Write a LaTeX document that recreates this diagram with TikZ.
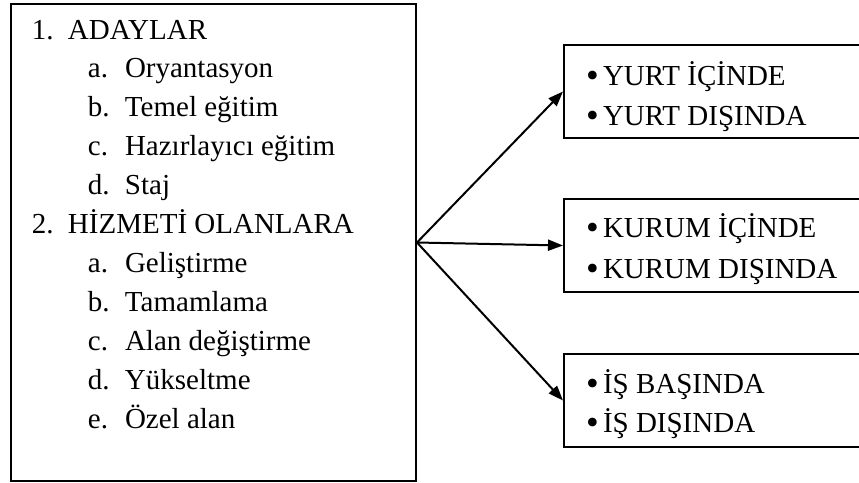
\documentclass[tikz,border=0pt]{standalone}
\usepackage{fontspec}
\setmainfont{Liberation Serif}
\usetikzlibrary{arrows.meta}
\tikzset{
	kutu/.style={draw,rectangle,inner sep=0pt,anchor=north west},
	satir/.style={anchor=base west,inner sep=0pt,font=\fontsize{14.5}{17}\selectfont},
}
\newcommand{\madde}[2]{\makebox[18pt][l]{#1}#2}
\newcommand{\altmadde}[2]{\hspace*{28pt}\makebox[18.5pt][l]{#1}#2}
\newcommand{\imlec}[1]{\makebox[8.5pt][l]{\raisebox{-1pt}{\scalebox{1.25}{\textbullet}}}#1}
\begin{document}
\begin{tikzpicture}[
	x=0.5pt,y=-0.5pt,
	>={Triangle[length=7.5pt,width=5.5pt]},
	line width=1pt,
	line join=miter
	]
	\useasboundingbox (0,0) rectangle (859,483);
	\clip (0,0) rectangle (859,483);
	% kutular
	\node[kutu,minimum width=202.5pt,minimum height=238.5pt] (egitim) at (10,3) {};
	\node[kutu,minimum width=160pt,minimum height=46.5pt] (yurt) at (563,44) {};
	\node[kutu,minimum width=160pt,minimum height=46.5pt] (kurum) at (563,198) {};
	\node[kutu,minimum width=160pt,minimum height=46.5pt] (is) at (563,353) {};
	% sol liste
	\foreach \metin [count=\i] in {
		{\madde{1.}{ADAYLAR}},
		{\altmadde{a.}{Oryantasyon}},
		{\altmadde{b.}{Temel eğitim}},
		{\altmadde{c.}{Hazırlayıcı eğitim}},
		{\altmadde{d.}{Staj}},
		{\madde{2.}{HİZMETİ OLANLARA}},
		{\altmadde{a.}{Geliştirme}},
		{\altmadde{b.}{Tamamlama}},
		{\altmadde{c.}{Alan değiştirme}},
		{\altmadde{d.}{Yükseltme}},
		{\altmadde{e.}{Özel alan}}}
		\node[satir] (sol\i) at (31,{39+38.9*(\i-1)}) {\metin};
	% sag kutularin yazilari
	\node[satir] (yurt1) at (585,85) {\imlec{YURT İÇİNDE}};
	\node[satir] (yurt2) at (585,125) {\imlec{YURT DIŞINDA}};
	\node[satir] (kurum1) at (585,237) {\imlec{KURUM İÇİNDE}};
	\node[satir] (kurum2) at (585,278) {\imlec{KURUM DIŞINDA}};
	\node[satir] (is1) at (585,393) {\imlec{İŞ BAŞINDA}};
	\node[satir] (is2) at (585,432) {\imlec{İŞ DIŞINDA}};
	\begin{scope}[->]
		\draw (egitim.east) -- (yurt.west);
		\draw (egitim.east) -- (kurum.west);
		\draw (egitim.east) -- (is.west);
	\end{scope}
\end{tikzpicture}
\end{document}
